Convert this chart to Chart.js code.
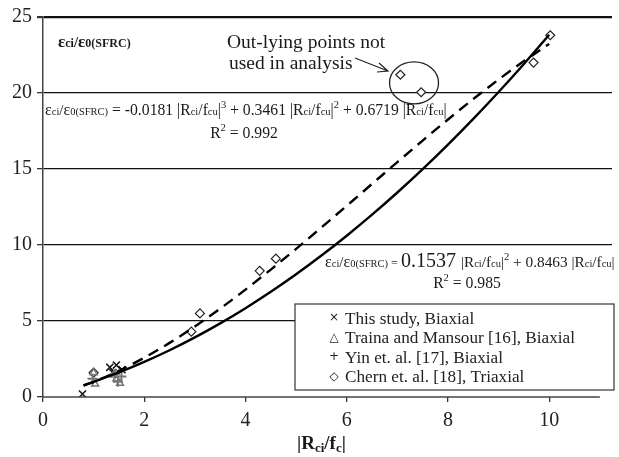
<!DOCTYPE html>
<html>
<head>
<meta charset="utf-8">
<script src="https://cdn.jsdelivr.net/npm/chart.js@4"></script>
<style>
  html, body { margin: 0; padding: 0; background: #fff; }
  #wrap { width: 619px; height: 457px; }
</style>
</head>
<body>
<div id="wrap"><canvas id="strainChart" width="619" height="457"></canvas></div>
<script>
// data
const xTicks = [0, 2, 4, 6, 8, 10];
const yTicks = [0, 5, 10, 15, 20, 25];

const thisStudyX = [0.78, 1.32, 1.45, 1.56, 1.38];
const thisStudyY = [0.2, 1.95, 2.1, 1.8, 1.6];
const trainaX = [1.0, 1.03, 1.45, 1.52, 1.4];
const trainaY = [1.6, 0.85, 1.2, 0.9, 1.45];
const yinX = [0.98, 1.48, 1.55, 1.42];
const yinY = [1.2, 1.0, 1.35, 1.5];
const chernX = [1.0, 2.93, 3.1, 4.28, 4.6, 7.06, 7.47, 9.69, 10.02];
const chernY = [1.6, 4.3, 5.5, 8.3, 9.1, 21.2, 20.05, 22.0, 23.8];

// fitted curves
const curveX = [0.8, 1.0, 1.5, 2.0, 2.5, 3.0, 3.5, 4.0, 4.5, 5.0, 5.5, 6.0, 6.5, 7.0, 7.5, 8.0, 8.5, 9.0, 9.5, 10.0];
const quadY = [0.775, 1.0, 1.615, 2.307, 3.076, 3.922, 4.845, 5.844, 6.921, 8.074, 9.304, 10.611, 11.995, 13.455, 14.993, 16.607, 18.298, 20.066, 21.911, 23.833];
const cubicY = [0.75, 1.0, 1.726, 2.583, 3.56, 4.642, 5.815, 7.067, 8.383, 9.75, 11.154, 12.581, 14.019, 15.454, 16.872, 18.258, 19.601, 20.886, 22.1, 23.229];

const outlierCentre = [7.27, 20.6];
const xAxisEnd = 11;

const SERIF = '"Liberation Serif", "Times New Roman", serif';
const pts = (xs, ys) => xs.map((v, i) => ({ x: v, y: ys[i] }));

// apufunktio: piirtää tekstin osissa (eri koot, ylä/alaindeksit)
const drawRich = (ctx, x, y, parts, align) => {
  let total = 0;
  parts.forEach((p) => {
    ctx.font = (p[2] ? 'bold ' : '') + p[1] + 'px ' + SERIF;
    total += ctx.measureText(p[0]).width;
  });
  let cx = align === 'center' ? x - total / 2 : (align === 'right' ? x - total : x);
  ctx.textAlign = 'left';
  ctx.textBaseline = 'alphabetic';
  parts.forEach((p) => {
    ctx.font = (p[2] ? 'bold ' : '') + p[1] + 'px ' + SERIF;
    ctx.fillText(p[0], cx, y + (p[3] || 0));
    cx += ctx.measureText(p[0]).width;
  });
};

const rcu = (big, small) => [["|R", big], ["ci", small], ["/f", big], ["cu", small], ["|", big]];

const extras = {
  id: 'extras',
  afterDatasetsDraw(chart) {
    const { ctx, scales: { x, y } } = chart;
    ctx.save();

    // x-akselin viiva
    ctx.strokeStyle = '#444';
    ctx.lineWidth = 1.5;
    ctx.beginPath();
    ctx.moveTo(x.getPixelForValue(0) - 1, y.getPixelForValue(0));
    ctx.lineTo(x.getPixelForValue(xAxisEnd), y.getPixelForValue(0));
    ctx.stroke();

    ctx.fillStyle = '#1a1a1a';

    // top-left label
    drawRich(ctx, 58, 47, [["ε", 17, true], ["ci", 12, true], ["/", 15, true], ["ε", 17, true], ["0(SFRC)", 12, true]]);

    // cubic equation
    drawRich(ctx, 45, 115, [["ε", 16], ["ci", 10.5], ["/", 15], ["ε", 16], ["0(SFRC)", 10.5], [" = -0.0181 ", 15.7]]
      .concat(rcu(15.7, 10.5), [["3", 10.5, false, -7], [" + 0.3461 ", 15.7]], rcu(15.7, 10.5), [["2", 10.5, false, -7], [" + 0.6719 ", 15.7]], rcu(15.7, 10.5)));
    drawRich(ctx, 244, 138, [["R", 15.7], ["2", 10.5, false, -7], [" = 0.992", 15.7]], 'center');

    // quadratic equation
    drawRich(ctx, 325, 267, [["ε", 16], ["ci", 10.5], ["/", 15], ["ε", 16], ["0(SFRC)", 10.5], [" = ", 12], ["0.1537 ", 20]]
      .concat(rcu(15.3, 10.5), [["2", 10.5, false, -7], [" + 0.8463 ", 15.3]], rcu(15.3, 10.5)));
    drawRich(ctx, 467, 288, [["R", 15.7], ["2", 10.5, false, -7], [" = 0.985", 15.7]], 'center');

    // out-lying note
    ctx.font = '19.5px ' + SERIF;
    ctx.textAlign = 'left';
    ctx.textBaseline = 'middle';
    ctx.fillText('Out-lying points not', 227, 43);
    ctx.fillText('used in analysis', 229, 64);

    // arrow
    ctx.strokeStyle = '#222';
    ctx.lineWidth = 1.2;
    ctx.beginPath();
    ctx.moveTo(355, 58);
    ctx.lineTo(388, 71);
    ctx.moveTo(379, 63);
    ctx.lineTo(388, 71);
    ctx.lineTo(377, 72);
    ctx.stroke();

    // ellipse around outliers
    ctx.lineWidth = 1.3;
    ctx.beginPath();
    ctx.ellipse(x.getPixelForValue(outlierCentre[0]) + 3, y.getPixelForValue(outlierCentre[1]) - 1, 24.5, 21, 0, 0, Math.PI * 2);
    ctx.stroke();

    // legend box
    ctx.fillStyle = '#fff';
    ctx.fillRect(295, 304, 319, 86);
    ctx.strokeStyle = '#333';
    ctx.lineWidth = 1.2;
    ctx.strokeRect(295, 304, 319, 86);
    const legendRows = [
      ['×', 'This study, Biaxial'],
      ['△', 'Traina and Mansour [16], Biaxial'],
      ['+', 'Yin et. al. [17], Biaxial'],
      ['◇', 'Chern et. al. [18], Triaxial'],
    ];
    ctx.fillStyle = '#222';
    ctx.textBaseline = 'middle';
    legendRows.forEach((row, i) => {
      const ly = 318 + i * 19.6;
      ctx.font = '12px "DejaVu Sans", sans-serif';
      ctx.textAlign = 'center';
      ctx.fillText(row[0], 334, ly);
      ctx.font = '17.2px ' + SERIF;
      ctx.textAlign = 'left';
      ctx.fillText(row[1], 345, ly + 1);
    });

    // x-akselin otsikko
    ctx.fillStyle = '#1a1a1a';
    drawRich(ctx, (x.getPixelForValue(0) + x.getPixelForValue(xAxisEnd)) / 2, 449,
      [["|R", 19, true], ["ci", 13, true, 3], ["/f", 19, true], ["c", 13, true, 3], ["|", 19, true]], 'center');

    ctx.restore();
  },
};

const config = {
  type: 'scatter',
  data: {
    datasets: [
      {
        label: 'quadratic',
        data: pts(curveX, quadY),
        showLine: true,
        borderColor: '#000',
        borderWidth: 2.4,
        pointRadius: 0,
        cubicInterpolationMode: 'monotone',
      },
      {
        label: 'cubic',
        data: pts(curveX, cubicY),
        showLine: true,
        borderColor: '#000',
        borderWidth: 2.4,
        borderDash: [11, 7],
        pointRadius: 0,
        cubicInterpolationMode: 'monotone',
      },
      {
        label: 'Traina and Mansour [16], Biaxial',
        data: pts(trainaX, trainaY),
        pointStyle: 'triangle',
        pointRadius: 4,
        borderColor: '#777',
        backgroundColor: 'rgba(255,255,255,0)',
        pointBorderWidth: 1.5,
      },
      {
        label: 'Yin et. al. [17], Biaxial',
        data: pts(yinX, yinY),
        pointStyle: 'cross',
        pointRadius: 5,
        borderColor: '#777',
        pointBorderWidth: 2,
      },
      {
        label: 'Chern et. al. [18], Triaxial',
        data: pts(chernX, chernY),
        pointStyle: 'rectRot',
        pointRadius: 4.5,
        borderColor: '#222',
        backgroundColor: '#fff',
        pointBorderWidth: 1.2,
      },
      {
        label: 'This study, Biaxial',
        data: pts(thisStudyX, thisStudyY),
        pointStyle: 'crossRot',
        pointRadius: 5,
        borderColor: '#111',
        pointBorderWidth: 1.5,
      },
    ],
  },
  options: {
    responsive: false,
    animation: false,
    layout: { padding: { top: 15, right: 2, left: 0, bottom: 0 } },
    plugins: {
      legend: { display: false },
      tooltip: { enabled: false },
    },
    scales: {
      x: {
        type: 'linear',
        min: 0,
        max: 11.24,
        afterBuildTicks: (scale) => { scale.ticks = xTicks.map((v) => ({ value: v })); },
        afterFit: (scale) => { scale.height = 60; },
        border: { display: false },
        grid: {
          drawOnChartArea: false,
          drawTicks: true,
          tickLength: 5,
          tickColor: '#333',
          lineWidth: 1.3,
        },
        ticks: {
          padding: 7,
          color: '#222',
          font: { family: SERIF, size: 20 },
          maxRotation: 0,
        },
      },
      y: {
        type: 'linear',
        min: 0,
        max: 25,
        afterBuildTicks: (scale) => { scale.ticks = yTicks.map((v) => ({ value: v })); },
        afterFit: (scale) => { scale.width = 43; },
        border: { display: true, color: '#444', width: 1.5 },
        grid: {
          color: (c) => (c.tick && c.tick.value === 0 ? 'rgba(0,0,0,0)' : '#111'),
          lineWidth: (c) => (c.tick && c.tick.value === 25 ? 2.2 : 1.3),
          tickColor: '#333',
          tickLength: 6,
        },
        ticks: {
          padding: 5,
          color: '#222',
          font: { family: SERIF, size: 20 },
        },
      },
    },
  },
  plugins: [extras],
};

new Chart(document.getElementById('strainChart'), config);
</script>
</body>
</html>
